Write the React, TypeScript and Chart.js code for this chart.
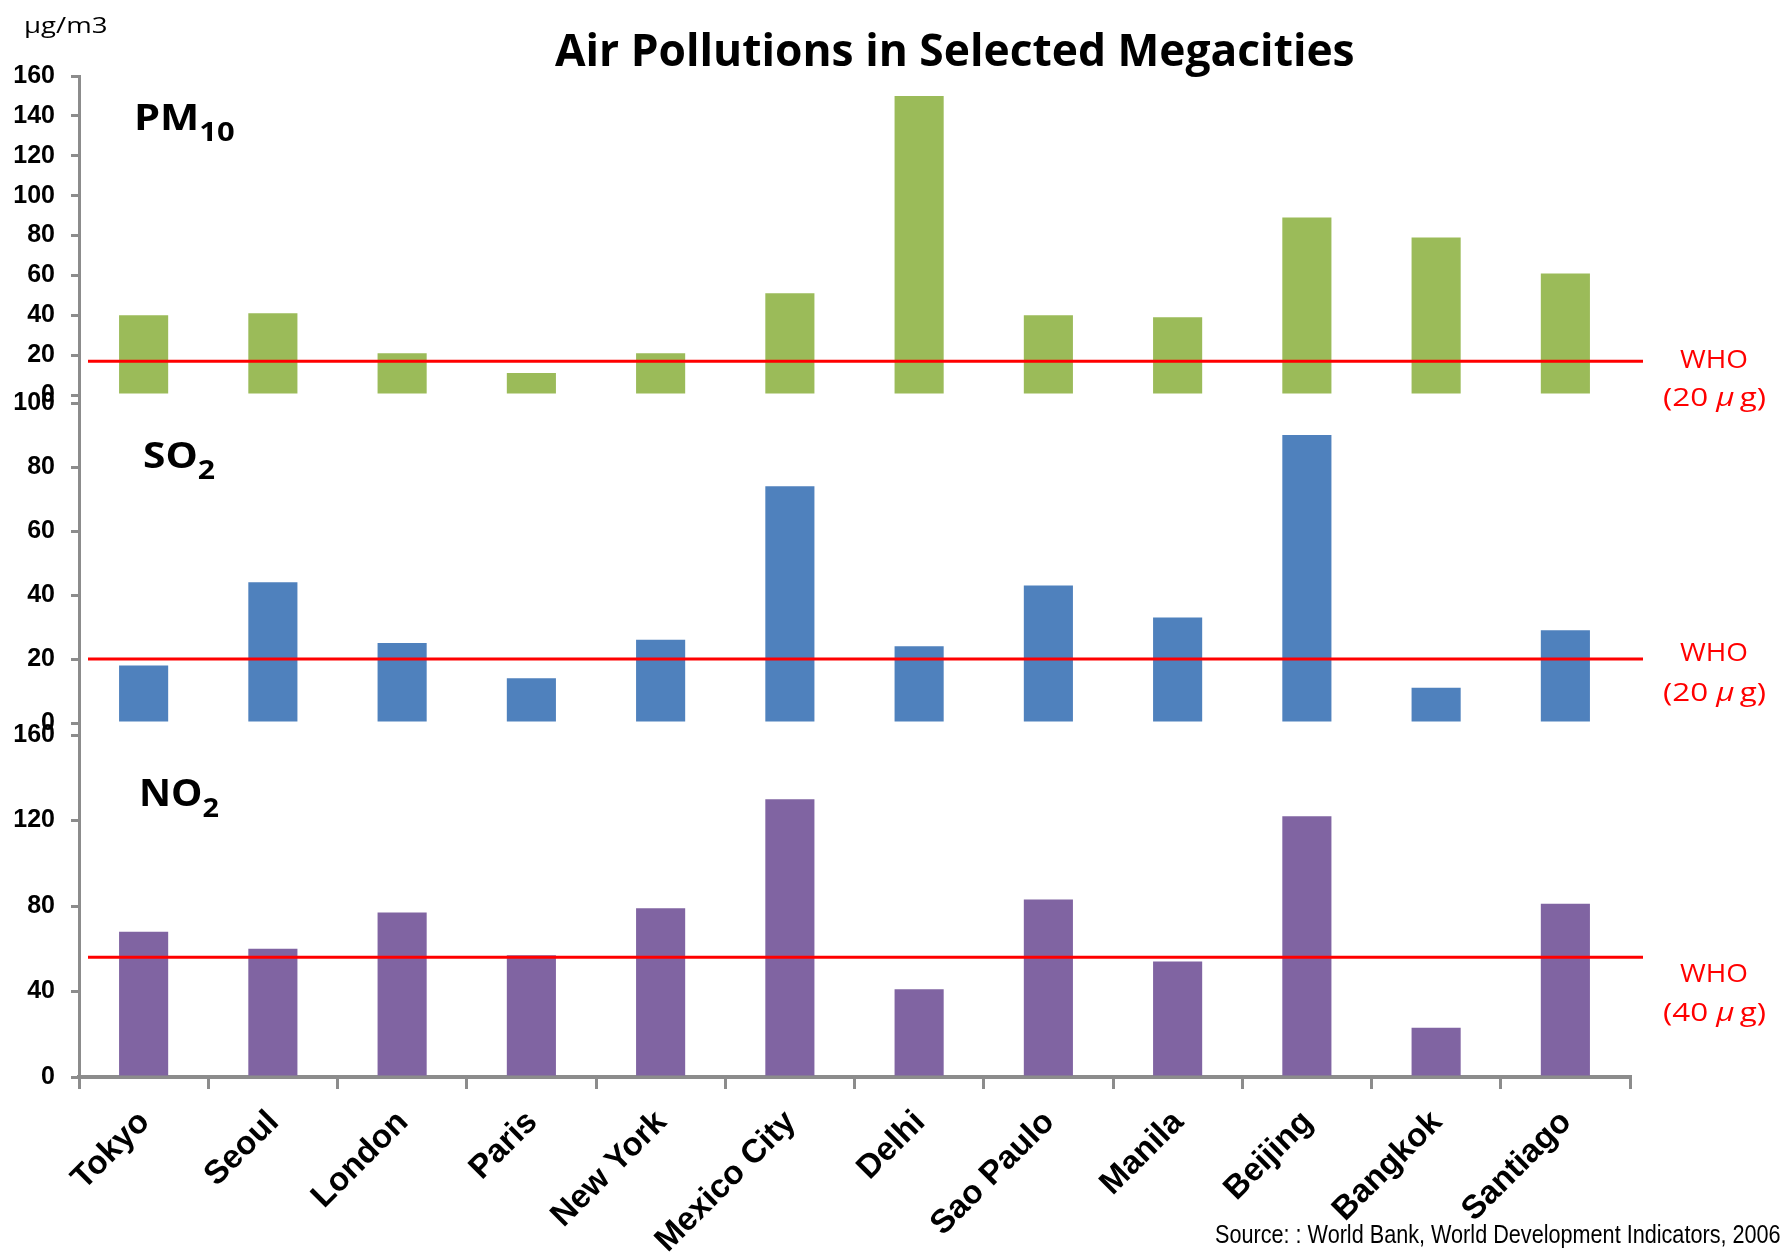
import React, { useEffect, useLayoutEffect, useRef } from 'react';
import { Chart, registerables } from 'chart.js';

Chart.register(...registerables);

// ---- data ----
const CITIES = ['Tokyo', 'Seoul', 'London', 'Paris', 'New York', 'Mexico City', 'Delhi', 'Sao Paulo', 'Manila', 'Beijing', 'Bangkok', 'Santiago'];
const PM10_VALUES = [40, 41, 21, 11, 21, 51, 150, 40, 39, 89, 79, 61];
const SO2_VALUES = [18, 44, 25, 14, 26, 74, 24, 43, 33, 90, 11, 29];
const NO2_VALUES = [68, 60, 77, 57, 79, 130, 41, 83, 54, 122, 23, 81];
const PM10_TICKS = [0, 20, 40, 60, 80, 100, 120, 140, 160];
const SO2_TICKS = [0, 20, 40, 60, 80, 100];
const NO2_TICKS = [0, 40, 80, 120, 160];
// where the red WHO guideline sits on each panel's own axis (as drawn in the source)
const WHO_LINE_VALUES = [17, 20, 56];
const WHO_LABELS = ['(20 ', '(20 ', '(40 '];
const PANEL_NAMES = [['PM', '10'], ['SO', '2'], ['NO', '2']];
const PANEL_COLORS = ['#9BBB59', '#4F81BD', '#8064A2'];

const PANELS = [
  { id: 'yPM', values: PM10_VALUES, ticks: PM10_TICKS, min: -4, max: 160, weight: 327 },
  { id: 'ySO', values: SO2_VALUES, ticks: SO2_TICKS, min: -3.75, max: 100, weight: 332 },
  { id: 'yNO', values: NO2_VALUES, ticks: NO2_TICKS, min: 0, max: 160, weight: 342 },
];

const AXIS_GRAY = '#8c8c8c';

const whoPlugin = {
  id: 'whoLines',
  afterDatasetsDraw(chart: any) {
    const { ctx, chartArea } = chart;
    ctx.save();
    ctx.strokeStyle = '#FF0000';
    ctx.lineWidth = 3;
    PANELS.forEach((p, i) => {
      const y = chart.scales[p.id].getPixelForValue(WHO_LINE_VALUES[i]);
      ctx.beginPath();
      ctx.moveTo(chartArea.left + 9, y);
      ctx.lineTo(chartArea.right + 13, y);
      ctx.stroke();
    });
    ctx.restore();
  },
};

type TxtProps = {
  left: number;
  width: number;
  baseline: number;
  size: number;
  family: string;
  k: number;
  weight?: string;
  color?: string;
  children: React.ReactNode;
};

function Txt({ left, width, baseline, size, family, k, weight = 'normal', color = '#000', children }: TxtProps) {
  const ref = useRef<HTMLSpanElement>(null);
  useLayoutEffect(() => {
    const fit = () => {
      const el = ref.current;
      if (!el) return;
      el.style.transform = 'none';
      const natural = el.offsetWidth;
      if (natural > 0) el.style.transform = `scaleX(${width / natural})`;
    };
    fit();
    if ((document as any).fonts && (document as any).fonts.ready) {
      (document as any).fonts.ready.then(fit);
    }
  }, [width]);
  return (
    <span
      ref={ref}
      style={{
        position: 'absolute',
        left,
        top: baseline - k * size,
        fontFamily: family,
        fontSize: size,
        fontWeight: weight as any,
        lineHeight: 1,
        color,
        whiteSpace: 'nowrap',
        display: 'inline-block',
        transformOrigin: 'left top',
      }}
    >
      {children}
    </span>
  );
}

const OPEN = '"Open Sans", "Noto Sans", sans-serif';
const OPEN_K = 0.888;
const LIB = '"Liberation Sans", Arial, sans-serif';
const LIB_K = 0.8465;

export default function App() {
  const canvasRef = useRef<HTMLCanvasElement>(null);

  useEffect(() => {
    const canvas = canvasRef.current;
    if (!canvas) return;
    const scales: any = {
      x: {
        type: 'category',
        position: 'bottom',
        offset: true,
        grid: { display: true, offset: true, drawOnChartArea: false, drawTicks: true, tickLength: 12, color: AXIS_GRAY, lineWidth: 3 },
        border: { display: true, color: AXIS_GRAY, width: 4 },
        ticks: {
          minRotation: 45,
          maxRotation: 45,
          autoSkip: false,
          padding: 14,
          labelOffset: 1,
          color: '#000',
          font: { family: LIB, weight: 'bold', size: 33 },
        },
        afterFit: (s: any) => { s.height = 181; },
      },
    };
    // stacked axes are laid out in reverse declaration order, so declare bottom panel first
    [...PANELS].reverse().forEach((p) => {
      scales[p.id] = {
        type: 'linear',
        position: 'left',
        stack: 'panels',
        stackWeight: p.weight,
        min: p.min,
        max: p.max,
        afterBuildTicks: (s: any) => { s.ticks = p.ticks.map((v) => ({ value: v })); },
        afterFit: (s: any) => { s.width = 79; },
        grid: { display: true, drawOnChartArea: false, drawTicks: true, tickLength: 8, color: AXIS_GRAY, lineWidth: 3 },
        border: { display: true, color: AXIS_GRAY, width: 3 },
        ticks: { autoSkip: false, padding: 16, color: '#000', font: { family: LIB, weight: 'bold', size: 25 } },
      };
    });

    const chart = new Chart(canvas, {
      type: 'bar',
      data: {
        labels: CITIES,
        datasets: PANELS.map((p, i) => ({
          label: PANEL_NAMES[i].join(''),
          data: p.values,
          yAxisID: p.id,
          xAxisID: 'x',
          backgroundColor: PANEL_COLORS[i],
          borderWidth: 0,
          grouped: false,
          barPercentage: 0.38,
          categoryPercentage: 1,
        })) as any,
      },
      options: {
        responsive: false,
        animation: false,
        devicePixelRatio: 1,
        layout: { padding: { top: 76, right: 154, left: 0, bottom: 0 } },
        plugins: { legend: { display: false }, tooltip: { enabled: false }, title: { display: false } },
        scales,
      } as any,
      plugins: [whoPlugin],
    });
    return () => chart.destroy();
  }, []);

  const whoBase = [368, 661, 982];
  const parenBase = [406, 701, 1021];
  const nameBase = [130, 468, 806];
  const nameLeft = [134, 143, 139];
  const nameWidth = [101, 72, 80];
  const nameSize = [35, 35, 37];

  return (
    <div style={{ position: 'absolute', left: 0, top: 0, width: 1784, height: 1258, background: '#fff', overflow: 'hidden' }}>
      <canvas ref={canvasRef} width={1784} height={1258} style={{ position: 'absolute', left: 0, top: 0, width: 1784, height: 1258 }} />
      <Txt left={24} width={84} baseline={33} size={22} family={OPEN} k={OPEN_K}>µg/m3</Txt>
      <Txt left={555} width={800} baseline={66} size={45} family={OPEN} k={OPEN_K} weight="bold">Air Pollutions in Selected Megacities</Txt>
      {PANEL_NAMES.map((n, i) => (
        <Txt key={'n' + i} left={nameLeft[i]} width={nameWidth[i]} baseline={nameBase[i]} size={nameSize[i]} family={OPEN} k={OPEN_K} weight="bold">
          {n[0]}
          <span style={{ fontSize: Math.round(nameSize[i] * 0.74), position: 'relative', top: 11 }}>{n[1]}</span>
        </Txt>
      ))}
      {WHO_LABELS.map((lab, i) => (
        <React.Fragment key={'w' + i}>
          <Txt left={1680} width={68} baseline={whoBase[i]} size={25} family={OPEN} k={OPEN_K} color="#FF0000">WHO</Txt>
          <Txt left={1663} width={103} baseline={parenBase[i]} size={25} family={OPEN} k={OPEN_K} color="#FF0000">
            {lab}
            <i style={{ marginRight: 4 }}>μ</i>g)
          </Txt>
        </React.Fragment>
      ))}
      <Txt left={1215} width={566} baseline={1243} size={25} family={LIB} k={LIB_K}>Source: : World Bank, World Development Indicators, 2006</Txt>
    </div>
  );
}
